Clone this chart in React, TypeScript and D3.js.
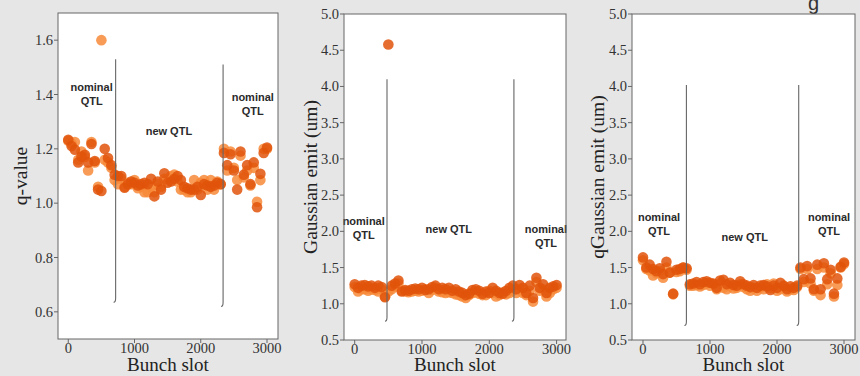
import React from "react";
import * as d3 from "d3";

const bunchSlots = [0,50,100,150,200,250,300,350,400,450,500,550,600,650,700,750,800,850,900,950,1000,1050,1100,1150,1200,1250,1300,1350,1400,1450,1500,1550,1600,1650,1700,1750,1800,1850,1900,1950,2000,2050,2100,2150,2200,2250,2300,2350,2400,2450,2500,2550,2600,2650,2700,2750,2800,2850,2900,2950,3000];

const qDark = [1.233,1.21,1.197,1.15,1.172,1.178,1.15,1.218,1.155,1.05,1.045,1.2,1.166,1.14,1.105,1.1,1.1,1.057,1.07,1.08,1.075,1.065,1.07,1.075,1.07,1.09,1.025,1.08,1.05,1.11,1.075,1.08,1.09,1.1,1.085,1.06,1.055,1.05,1.05,1.06,1.03,1.07,1.065,1.06,1.065,1.075,1.07,1.185,1.14,1.18,1.12,1.05,1.19,1.105,1.14,1.07,1.15,0.985,1.108,1.185,1.205];
const qLight = [1.23,1.22,1.225,1.16,1.19,1.17,1.12,1.225,1.15,1.06,1.6,1.16,1.15,1.13,1.085,1.07,1.09,1.06,1.075,1.07,1.085,1.055,1.06,1.04,1.04,1.06,1.04,1.07,1.06,1.09,1.09,1.1,1.105,1.08,1.05,1.05,1.04,1.04,1.085,1.05,1.075,1.085,1.05,1.085,1.05,1.08,1.07,1.2,1.12,1.19,1.13,1.085,1.175,1.095,1.12,1.065,1.13,1.005,1.085,1.2,1.2];

const gDark = [1.27,1.22,1.25,1.26,1.24,1.25,1.22,1.25,1.23,1.09,4.58,1.25,1.28,1.32,1.17,1.19,1.18,1.2,1.21,1.2,1.22,1.19,1.2,1.23,1.25,1.2,1.22,1.2,1.22,1.18,1.2,1.17,1.15,1.12,1.14,1.19,1.2,1.18,1.14,1.17,1.15,1.22,1.18,1.15,1.14,1.18,1.22,1.25,1.2,1.26,1.22,1.15,1.25,1.08,1.36,1.22,1.27,1.15,1.22,1.24,1.26];
const gLight = [1.23,1.17,1.2,1.2,1.18,1.2,1.19,1.17,1.2,1.1,1.17,1.2,1.24,1.28,1.18,1.17,1.16,1.17,1.18,1.17,1.18,1.2,1.15,1.19,1.22,1.17,1.16,1.15,1.16,1.15,1.13,1.12,1.1,1.08,1.12,1.15,1.16,1.14,1.12,1.12,1.18,1.15,1.1,1.12,1.16,1.13,1.15,1.18,1.15,1.2,1.15,1.12,1.18,1.03,1.3,1.18,1.2,1.1,1.15,1.2,1.22];

const qgDark = [1.64,1.5,1.54,1.48,1.45,1.49,1.41,1.58,1.43,1.14,1.47,1.48,1.5,1.49,1.27,1.28,1.3,1.27,1.3,1.31,1.29,1.28,1.22,1.32,1.33,1.27,1.29,1.26,1.25,1.31,1.27,1.25,1.23,1.26,1.22,1.25,1.26,1.24,1.19,1.25,1.22,1.29,1.25,1.2,1.24,1.22,1.25,1.5,1.34,1.52,1.35,1.2,1.54,1.2,1.56,1.34,1.47,1.14,1.35,1.51,1.57];
const qgLight = [1.6,1.48,1.46,1.39,1.42,1.45,1.36,1.5,1.43,1.13,1.44,1.45,1.5,1.47,1.25,1.25,1.26,1.24,1.26,1.28,1.25,1.27,1.2,1.28,1.22,1.2,1.24,1.21,1.22,1.27,1.23,1.2,1.18,1.22,1.18,1.22,1.2,1.27,1.22,1.28,1.18,1.2,1.24,1.17,1.2,1.19,1.23,1.48,1.3,1.48,1.28,1.18,1.48,1.12,1.5,1.27,1.42,1.1,1.26,1.5,1.55];

const xTicks = [0, 1000, 2000, 3000];
const qTicks = [0.6, 0.8, 1.0, 1.2, 1.4, 1.6];
const emitTicks = [0.5, 1.0, 1.5, 2.0, 2.5, 3.0, 3.5, 4.0, 4.5, 5.0];

const yTitles = ["q-value", "Gaussian emit (um)", "qGaussian emit (um)"];
const xTitle = "Bunch slot";

// separators: [slot, yBottom, yTop]
const sep1 = [[715, 0.635, 1.53], [2337, 0.62, 1.51]];
const sep2 = [[480, 0.76, 4.1], [2366, 0.76, 4.1]];
const sep3 = [[648, 0.7, 4.02], [2324, 0.7, 4.02]];

// annotations: [slot, y, lines]
const ann1: [number, number, string[]][] = [[353, 1.426, ["nominal", "QTL"]], [1519, 1.267, ["new QTL"]], [2785, 1.39, ["nominal", "QTL"]]];
const ann2: [number, number, string[]][] = [[134, 2.136, ["nominal", "QTL"]], [1399, 2.035, ["new QTL"]], [2842, 2.035, ["nominal", "QTL"]]];
const ann3: [number, number, string[]][] = [[239, 2.2, ["nominal", "QTL"]], [1518, 1.92, ["new QTL"]], [2776, 2.2, ["nominal", "QTL"]]];

const DARK = "#e0540a";
const LIGHT = "#f78a38";

type PanelCfg = {
  left: number; right: number; top: number; bottom: number;
  xd: [number, number]; yd: [number, number];
  yticks: number[]; dark: number[]; light: number[];
  seps: number[][]; ann: [number, number, string[]][]; title: string; titleX: number;
};

const panels: PanelCfg[] = [
  { left: 58, right: 278, top: 13, bottom: 339, xd: [-155, 3166], yd: [0.5, 1.7], yticks: qTicks, dark: qDark, light: qLight, seps: sep1, ann: ann1, title: yTitles[0], titleX: 20 },
  { left: 344, right: 566, top: 14, bottom: 340, xd: [-159, 3140], yd: [0.5, 5.0], yticks: emitTicks, dark: gDark, light: gLight, seps: sep2, ann: ann2, title: yTitles[1], titleX: 310 },
  { left: 632, right: 855, top: 14, bottom: 340, xd: [-164, 3164], yd: [0.5, 5.0], yticks: emitTicks, dark: qgDark, light: qgLight, seps: sep3, ann: ann3, title: yTitles[2], titleX: 597 },
];

const serif = "'Liberation Serif', 'DejaVu Serif', serif";
const sans = "'Liberation Sans', Arial, sans-serif";

function Panel({ p }: { p: PanelCfg }) {
  const x = d3.scaleLinear().domain(p.xd).range([p.left, p.right]);
  const y = d3.scaleLinear().domain(p.yd).range([p.bottom, p.top]);
  const fmt = d3.format(".1f");
  const cy = (p.top + p.bottom) / 2;
  return (
    <g>
      <rect x={p.left} y={p.top} width={p.right - p.left} height={p.bottom - p.top} fill="#fff" />
      {p.light.map((v, i) => (
        <circle key={"l" + i} cx={x(bunchSlots[i])} cy={y(v)} r={5.3} fill={LIGHT} fillOpacity={0.85} />
      ))}
      {p.dark.map((v, i) => (
        <circle key={"d" + i} cx={x(bunchSlots[i])} cy={y(v)} r={5.3} fill={DARK} fillOpacity={0.85} />
      ))}
      {p.seps.map((s, i) => {
        const xs = x(s[0]);
        const yb = y(s[1]);
        const yt = y(s[2]);
        return (
          <path key={"s" + i} d={`M${xs},${yt} L${xs},${yb - 4} Q${xs},${yb} ${xs - 2},${yb}`} fill="none" stroke="#666" strokeWidth={1.1} />
        );
      })}
      {p.ann.map((a, i) => (
        <text key={"a" + i} x={x(a[0])} y={y(a[1])} textAnchor="middle" fontFamily={sans} fontWeight="bold" fontSize={11} fill="#2a2a2a">
          {a[2].map((t, j) => (
            <tspan key={j} x={x(a[0])} dy={j === 0 ? 4 : 14}>{t}</tspan>
          ))}
        </text>
      ))}
      <rect x={p.left} y={p.top} width={p.right - p.left} height={p.bottom - p.top} fill="none" stroke="#666" strokeWidth={1} />
      {xTicks.map((t) => (
        <g key={"xt" + t}>
          <line x1={x(t)} x2={x(t)} y1={p.bottom} y2={p.bottom + 4} stroke="#666" />
          <text x={x(t)} y={p.bottom + 14} textAnchor="middle" fontFamily={serif} fontSize={14.5} fill="#333">{t}</text>
        </g>
      ))}
      {p.yticks.map((t) => (
        <g key={"yt" + t}>
          <line x1={p.left - 4} x2={p.left} y1={y(t)} y2={y(t)} stroke="#666" />
          <text x={p.left - 5} y={y(t) + 5} textAnchor="end" fontFamily={serif} fontSize={14.5} fill="#333">{fmt(t)}</text>
        </g>
      ))}
      <text x={(p.left + p.right) / 2} y={371} textAnchor="middle" fontFamily={serif} fontSize={19} fill="#222">{xTitle}</text>
      <text transform={`translate(${p.titleX + 7},${cy}) rotate(-90)`} textAnchor="middle" fontFamily={serif} fontSize={19.5} fill="#222">{p.title}</text>
    </g>
  );
}

export default function App() {
  return (
    <svg width={860} height={376} style={{ position: "absolute", left: 0, top: 0 }}>
      <rect x={0} y={0} width={860} height={376} fill="#e6e6e6" />
      <text x={808} y={10} fontFamily={sans} fontSize={20} fill="#333">g</text>
      {panels.map((p, i) => <Panel key={i} p={p} />)}
    </svg>
  );
}
